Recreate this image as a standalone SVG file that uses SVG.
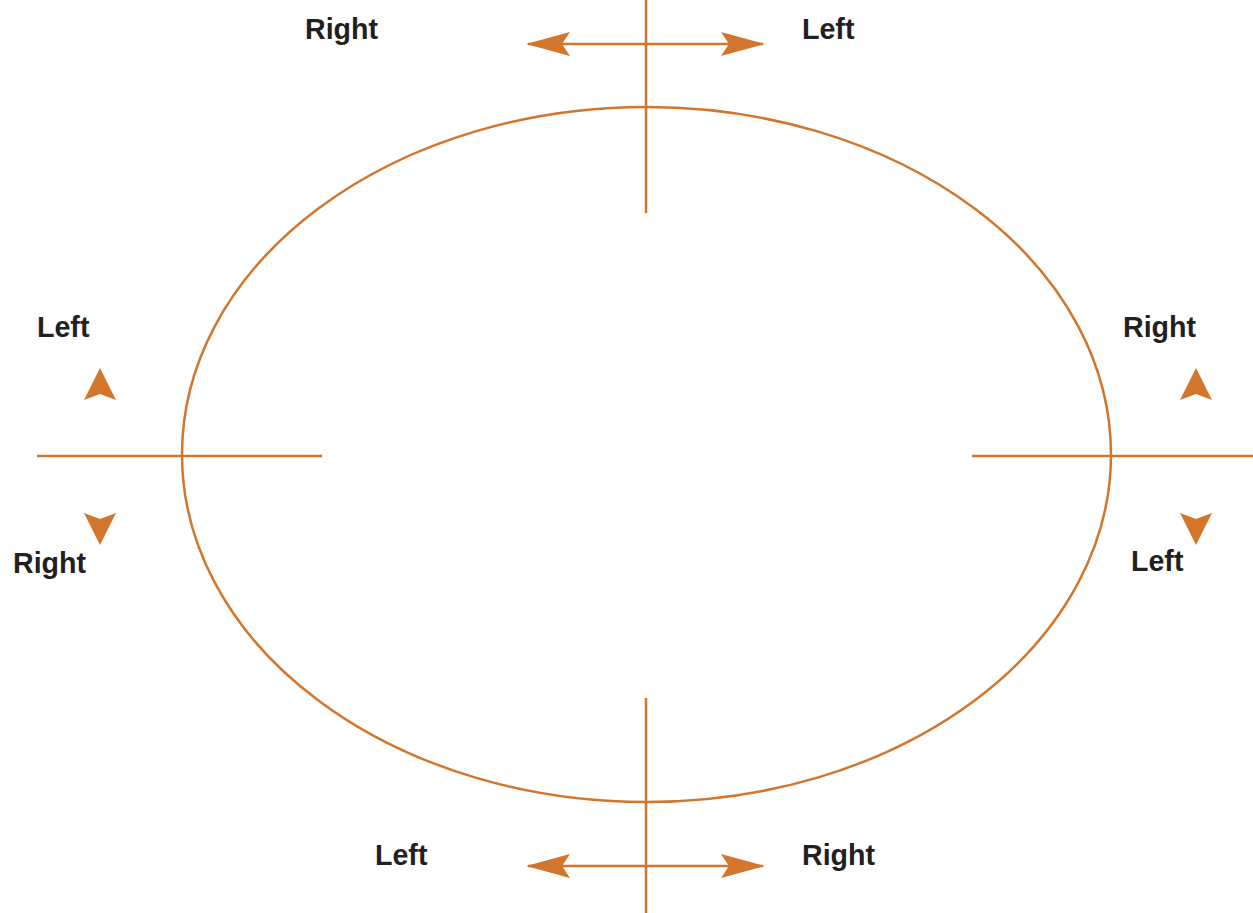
<svg xmlns="http://www.w3.org/2000/svg" width="1253" height="913" viewBox="0 0 1253 913">
<style>
.ln{stroke:#D2752D;stroke-width:2.5;fill:none}
.ah{fill:#D2752D}
.t{font-family:"Liberation Sans",Arial,sans-serif;font-weight:bold;font-size:28.6px;fill:#231f20}
</style>
<defs>
<marker id="arr" viewBox="0 0 44 24" refX="42" refY="12" markerWidth="44" markerHeight="24" markerUnits="userSpaceOnUse" orient="auto-start-reverse">
<path d="M0,0 L44,12 L0,24 L8,12 Z" class="ah"/>
</marker>
</defs>
<rect width="1253" height="913" fill="#fff"/>
<g id="ellipse"><ellipse cx="646.5" cy="454.5" rx="464.5" ry="347.5" class="ln"/></g>
<g id="connectors">
<line x1="646" y1="0" x2="646" y2="213" class="ln"/>
<line x1="646" y1="698" x2="646" y2="913" class="ln"/>
<line x1="37" y1="456" x2="322" y2="456" class="ln"/>
<line x1="972" y1="456" x2="1253" y2="456" class="ln"/>
<line x1="528" y1="44" x2="763" y2="44" class="ln" marker-start="url(#arr)" marker-end="url(#arr)"/>
<line x1="528" y1="866" x2="763" y2="866" class="ln" marker-start="url(#arr)" marker-end="url(#arr)"/>
<path d="M100,368 L116,400 L100,394 L84,400 Z" class="ah"/>
<path d="M100,545 L116,513 L100,519 L84,513 Z" class="ah"/>
<path d="M1196,368 L1212,400 L1196,394 L1180,400 Z" class="ah"/>
<path d="M1196,545 L1212,513 L1196,519 L1180,513 Z" class="ah"/>
</g>
<g id="labels">
<text class="t" x="305" y="39">Right</text>
<text class="t" x="802" y="39">Left</text>
<text class="t" x="37" y="337">Left</text>
<text class="t" x="13" y="573">Right</text>
<text class="t" x="1123" y="337">Right</text>
<text class="t" x="1131" y="571">Left</text>
<text class="t" x="375" y="865">Left</text>
<text class="t" x="802" y="865">Right</text>
</g>
</svg>
